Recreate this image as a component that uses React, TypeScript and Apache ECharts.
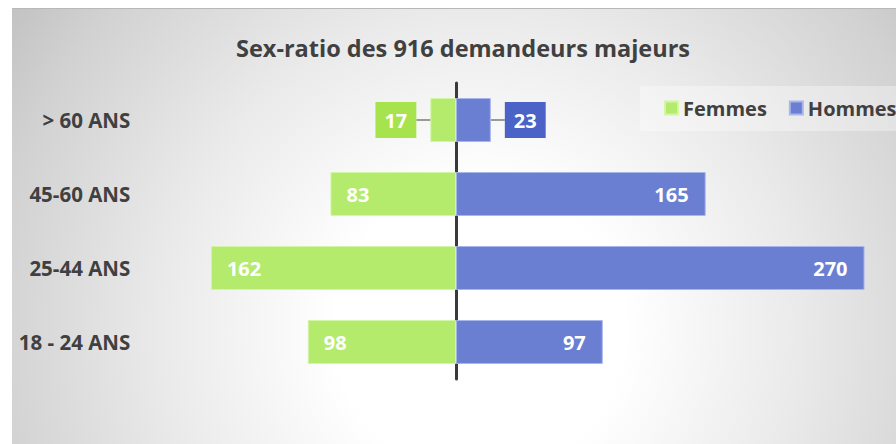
import React, { useEffect, useRef } from "react";
import * as echarts from "echarts";

const categories = ["18 - 24 ANS", "25-44 ANS", "45-60 ANS", "> 60 ANS"];
const femmes = [98, 162, 83, 17];
const hommes = [97, 270, 165, 23];
const titleText = "Sex-ratio des 916 demandeurs majeurs";
const seriesNames = ["Femmes", "Hommes"];

const GREEN = "#b4eb6d";
const GREEN_BOX = "#a6e34d";
const BLUE = "#6a7fd2";
const BLUE_BOX = "#4b63c6";
const TEXT = "#404040";
const FONT = "'Open Sans', sans-serif";

export default function App() {
  const ref = useRef<HTMLDivElement>(null);
  useEffect(() => {
    if (!ref.current) return;
    const chart = echarts.init(ref.current, undefined, { renderer: "svg" });
    const lastIdx = categories.length - 1;
    const valueLabel = {
      color: "#ffffff",
      fontFamily: FONT,
      fontWeight: "bold" as const,
      fontSize: 20,
    };
    const boxRich = (bg: string) => ({
      box: {
        backgroundColor: bg,
        color: "#fff",
        fontFamily: FONT,
        fontWeight: "bold",
        fontSize: 20,
        lineHeight: 22,
        padding: [8, 9, 8, 9],
      },
      line: { width: 14, height: 2, backgroundColor: "#9a9a9a" },
    });
    const femmesData = femmes.map((v, i) =>
      i === lastIdx
        ? {
            value: -v,
            label: {
              position: "left",
              distance: 0,
              formatter: (p: any) => `{box|${Math.abs(p.value)}}{line|}`,
              rich: boxRich(GREEN_BOX),
            },
          }
        : -v
    );
    const hommesData = hommes.map((v, i) =>
      i === lastIdx
        ? {
            value: v,
            label: {
              position: "right",
              distance: 0,
              formatter: (p: any) => `{line|}{box|${Math.abs(p.value)}}`,
              rich: boxRich(BLUE_BOX),
            },
          }
        : v
    );
    chart.setOption({
      animation: false,
      backgroundColor: "#ffffff",
      graphic: [
        {
          type: "rect",
          z: -10,
          silent: true,
          shape: { x: 12, y: 8, width: 884, height: 436 },
          style: {
            fill: new echarts.graphic.RadialGradient(
              480,
              330,
              580,
              [
                { offset: 0, color: "#ffffff" },
                { offset: 0.25, color: "#ffffff" },
                { offset: 0.55, color: "#eaeaea" },
                { offset: 0.85, color: "#d1d1d1" },
                { offset: 1, color: "#c0c0c0" },
              ],
              true
            ),
            stroke: null,
          },
        },
        {
          type: "line",
          z: -9,
          silent: true,
          shape: { x1: 12, y1: 8.5, x2: 896, y2: 8.5 },
          style: { stroke: "#b8b8b8", lineWidth: 1 },
        },
      ],
      title: {
        text: titleText,
        left: 458,
        textAlign: "center",
        top: 31,
        textStyle: {
          fontFamily: FONT,
          fontWeight: "bold",
          fontSize: 23.5,
          color: TEXT,
        },
      },
      legend: {
        data: seriesNames,
        orient: "horizontal",
        left: 640,
        top: 86,
        width: 400,
        padding: [12, 24, 13, 24],
        backgroundColor: "rgba(255,255,255,0.35)",
        itemWidth: 13,
        itemHeight: 13,
        itemGap: 22,
        icon: "rect",
        textStyle: {
          fontFamily: FONT,
          fontWeight: "bold",
          fontSize: 20,
          color: TEXT,
        },
      },
      grid: { left: 138.3, right: 1.2, top: 83, bottom: 65 },
      xAxis: {
        type: "value",
        min: -210,
        max: 290,
        show: false,
      },
      yAxis: [
        {
          type: "category",
          data: categories,
          axisLine: {
            show: true,
            onZero: true,
            lineStyle: { color: "#3a3a3a", width: 3 },
          },
          axisTick: { show: false },
          axisLabel: { show: false },
        },
        {
          type: "category",
          data: categories,
          position: "left",
          axisLine: { show: false, onZero: false },
          axisTick: { show: false },
          axisLabel: {
            margin: 8,
            fontFamily: FONT,
            fontWeight: "bold",
            fontSize: 20.5,
            color: TEXT,
          },
        },
      ],
      series: [
        {
          name: seriesNames[0],
          type: "bar",
          stack: "total",
          barWidth: 44,
          data: femmesData,
          itemStyle: { color: GREEN, borderColor: "#d3f5a8", borderWidth: 1 },
          label: {
            show: true,
            position: "insideLeft",
            distance: 16,
            formatter: (p: any) => String(Math.abs(p.value)),
            ...valueLabel,
          },
        },
        {
          name: seriesNames[1],
          type: "bar",
          stack: "total",
          barWidth: 44,
          data: hommesData,
          itemStyle: { color: BLUE, borderColor: "#a9b6ea", borderWidth: 1 },
          label: {
            show: true,
            position: "insideRight",
            distance: 17,
            formatter: (p: any) => String(Math.abs(p.value)),
            ...valueLabel,
          },
        },
      ],
    });
    return () => chart.dispose();
  }, []);
  return (
    <div
      ref={ref}
      style={{ position: "fixed", left: 0, top: 0, width: 896, height: 444 }}
    />
  );
}
